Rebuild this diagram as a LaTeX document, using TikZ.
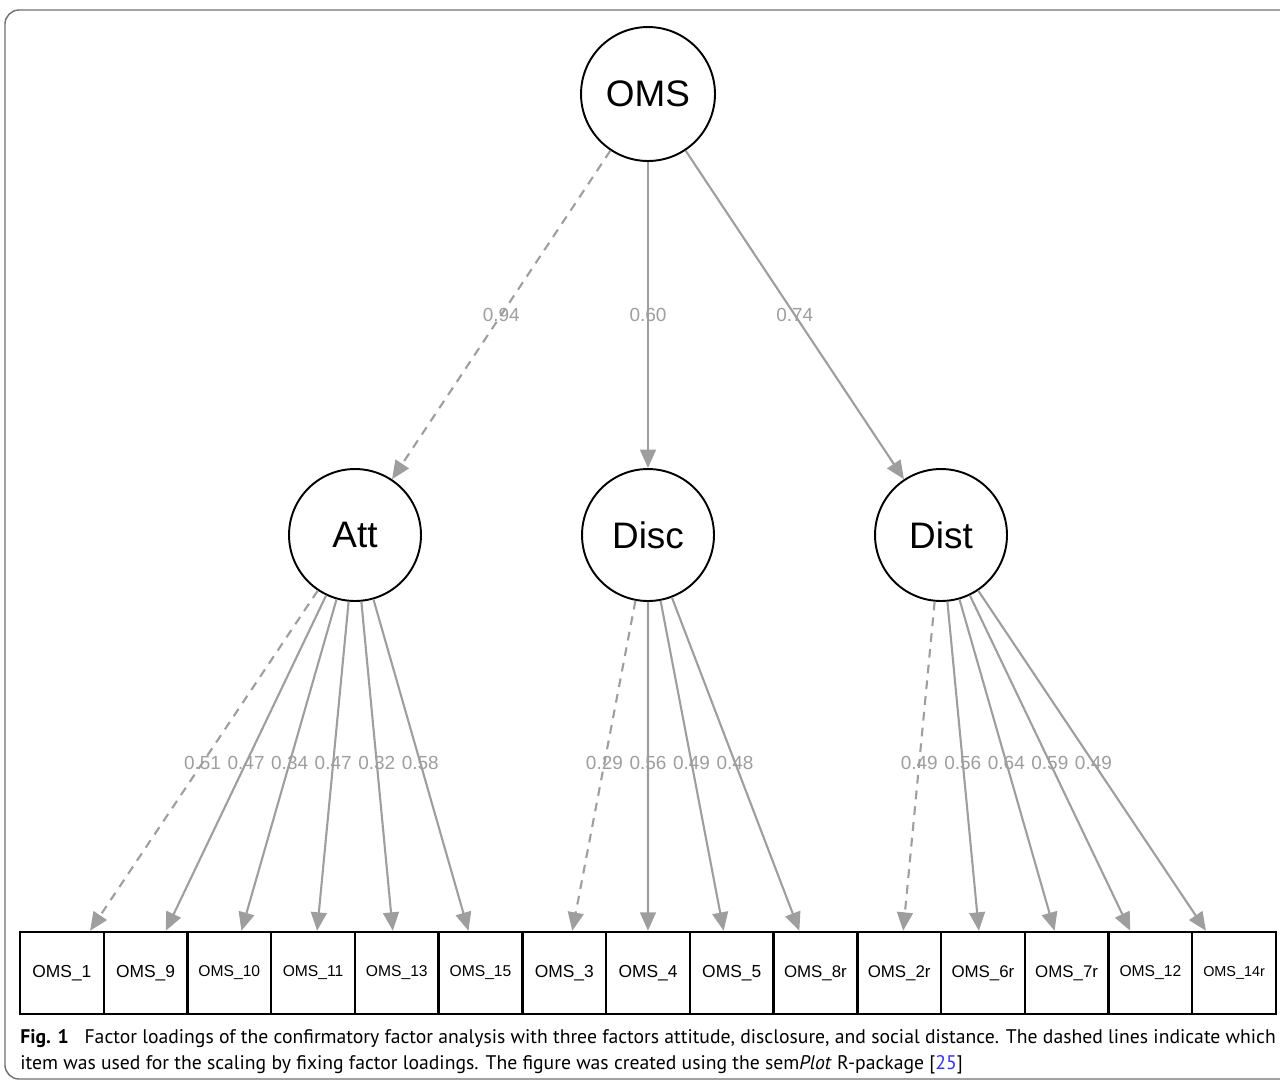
\documentclass[tikz,border=0pt]{standalone}
\usepackage{fontspec}
\setmainfont{Liberation Sans}
\newfontfamily\capfont{PT Sans}
\usetikzlibrary{arrows.meta}
\definecolor{loadgray}{HTML}{9E9E9E}
\definecolor{framegray}{HTML}{707070}
\definecolor{refblue}{HTML}{3333EE}
\tikzstyle{arrow} = [draw=loadgray, line width=1.2pt, -{Triangle[length=10.5pt,width=9pt]}]
\tikzstyle{fixedload} = [dash pattern=on 5pt off 4pt]
\tikzstyle{freeload} = [solid]
\tikzstyle{latent} = [circle, draw, line width=1.1pt, inner sep=0pt, font=\fontsize{21}{21}\selectfont]
\tikzstyle{item} = [rectangle, draw, line width=1.4pt, minimum width=1.675cm, minimum height=1.64cm, inner sep=0pt]
\tikzstyle{lab} = [text=loadgray, font=\fontsize{10.8}{11}\selectfont, inner sep=0pt]

\begin{document}
\begin{tikzpicture}[x=0.02cm, y=-0.02cm]
        % page and frame
        \clip (0,0) rectangle (1280,1082);
        \draw[framegray, line width=0.8pt, rounded corners=8pt] (5,10) rectangle (1320,1079);

        % factors
        \node[latent, minimum size=2.68cm] (oms) at (648,94) {OMS};
        \node[latent, minimum size=2.64cm] (att) at (355,535) {Att};
        \node[latent, minimum size=2.64cm] (disc) at (648,535) {Disc};
        \node[latent, minimum size=2.64cm] (dist) at (941,535) {Dist};

        % items
        \foreach \i/\name/\fs in {1/OMS\_1/9.9, 2/OMS\_9/9.9, 3/OMS\_10/8.9, 4/OMS\_11/8.9,
            5/OMS\_13/8.9, 6/OMS\_15/8.9, 7/OMS\_3/9.9, 8/OMS\_4/9.9, 9/OMS\_5/9.9,
            10/OMS\_8r/9.6, 11/OMS\_2r/9.6, 12/OMS\_6r/9.6, 13/OMS\_7r/9.6,
            14/OMS\_12/8.9, 15/OMS\_14r/8.2}
          \node[item, font=\fontsize{\fs}{\fs}\selectfont] (b\i) at ({20+83.73*(\i-0.5)},973) {\name};

        % second order loadings
        \draw[arrow, fixedload] (oms) -- (att) node[lab, pos=0.5] {0.94};
        \draw[arrow, freeload] (oms) -- (disc) node[lab, pos=0.5] {0.60};
        \draw[arrow, freeload] (oms) -- (dist) node[lab, pos=0.5] {0.74};

        % item loadings
        \foreach \src/\b/\v/\s in {att/1/0.51/fixedload, att/2/0.47/freeload, att/3/0.34/freeload,
            att/4/0.47/freeload, att/5/0.32/freeload, att/6/0.58/freeload,
            disc/7/0.29/fixedload, disc/8/0.56/freeload, disc/9/0.49/freeload, disc/10/0.48/freeload,
            dist/11/0.49/fixedload, dist/12/0.56/freeload, dist/13/0.64/freeload, dist/14/0.59/freeload,
            dist/15/0.49/freeload}
        {
          \draw[arrow, \s] (\src) -- (b\b);
          \path (\src.center) -- (b\b.center) node[lab, pos=0.52] {\v};
        }

        % caption
        \node[anchor=base west, inner sep=0pt, font=\capfont\fontsize{11.2}{13}\selectfont] (cap1) at (20,1043)
          {\textbf{Fig. 1}\hspace{0.8em}Factor loadings of the confirmatory factor analysis with three factors attitude, disclosure, and social distance. The dashed lines indicate which};
        \node[anchor=base west, inner sep=0pt, font=\capfont\fontsize{11.2}{13}\selectfont] (cap2) at (20,1069)
          {item was used for the scaling by fixing factor loadings. The figure was created using the sem\textit{Plot} R-package [\textcolor{refblue}{25}]};
\end{tikzpicture}
\end{document}
